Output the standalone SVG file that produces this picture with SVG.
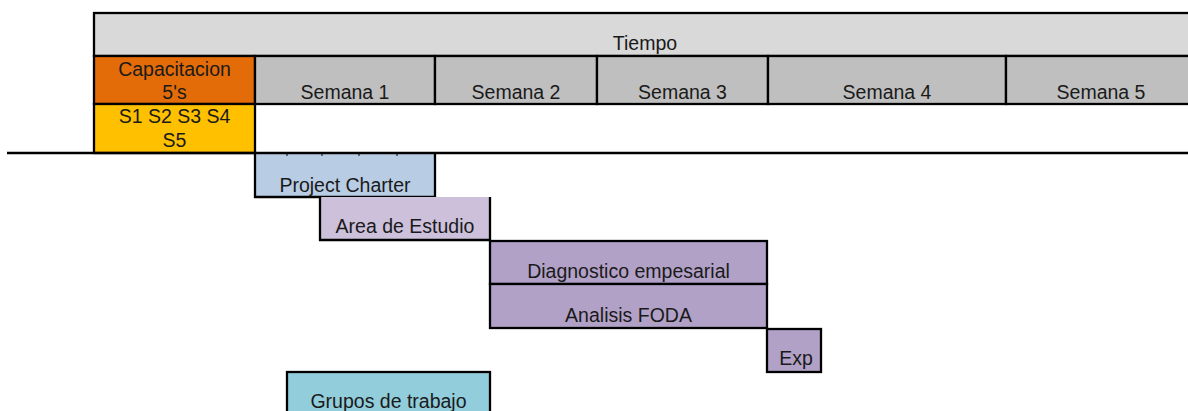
<svg xmlns="http://www.w3.org/2000/svg" width="1188" height="411" viewBox="0 0 1188 411">
  <style>
    text { font-family: "Liberation Sans", Arial, sans-serif; font-size: 19.5px; fill: #1a1a1a; text-anchor: middle; }
    .b { stroke: #000; stroke-width: 2.3; fill: none; }
    .hdr { fill: #D9D9D9; }
    .wk { fill: #BFBFBF; }
  </style>
  <rect width="1188" height="411" fill="#fff"/>

  <g id="header">
    <rect x="94" y="13" width="1106" height="43" class="hdr"/>
    <rect x="94" y="13" width="1106" height="43" class="b"/>
    <text x="645" y="50">Tiempo</text>
  </g>

  <g id="capacitacion">
    <rect x="94" y="56" width="161" height="48" fill="#E36C09"/>
    <rect x="94" y="56" width="161" height="48" class="b"/>
    <text x="174.5" y="76">Capacitacion</text>
    <text x="174.5" y="99">5's</text>
  </g>

  <g id="semana1">
    <rect x="255" y="56" width="180" height="48" class="wk"/>
    <rect x="255" y="56" width="180" height="48" class="b"/>
    <text x="345" y="99">Semana 1</text>
  </g>
  <g id="semana2">
    <rect x="435" y="56" width="162" height="48" class="wk"/>
    <rect x="435" y="56" width="162" height="48" class="b"/>
    <text x="516" y="99">Semana 2</text>
  </g>
  <g id="semana3">
    <rect x="597" y="56" width="171" height="48" class="wk"/>
    <rect x="597" y="56" width="171" height="48" class="b"/>
    <text x="682.5" y="99">Semana 3</text>
  </g>
  <g id="semana4">
    <rect x="768" y="56" width="238" height="48" class="wk"/>
    <rect x="768" y="56" width="238" height="48" class="b"/>
    <text x="887" y="99">Semana 4</text>
  </g>
  <g id="semana5">
    <rect x="1006" y="56" width="194" height="48" class="wk"/>
    <rect x="1006" y="56" width="194" height="48" class="b"/>
    <text x="1101" y="99">Semana 5</text>
  </g>

  <g id="s-cell">
    <rect x="94" y="104" width="161" height="49" fill="#FFC000"/>
    <rect x="94" y="104" width="161" height="49" class="b"/>
    <text x="174.5" y="123">S1 S2 S3 S4</text>
    <text x="174.5" y="147">S5</text>
  </g>

  <g id="project-charter">
    <rect x="255" y="153" width="180" height="44" fill="#B8CCE4"/>
    <path d="M255,153 V197 H435 V153" class="b"/>
    <text x="345" y="192">Project Charter</text>
  </g>

  <g id="area-estudio">
    <rect x="320" y="197" width="170" height="43" fill="#CCC0DA"/>
    <path d="M320,197 V240 H490 V197" class="b"/>
    <text x="405" y="233">Area de Estudio</text>
  </g>

  <g id="diagnostico">
    <rect x="490" y="241" width="277" height="43" fill="#B2A1C7"/>
    <rect x="490" y="241" width="277" height="43" class="b"/>
    <text x="628.5" y="278">Diagnostico empesarial</text>
  </g>

  <g id="foda">
    <rect x="490" y="284" width="277" height="44" fill="#B2A1C7"/>
    <rect x="490" y="284" width="277" height="44" class="b"/>
    <text x="628.5" y="322">Analisis FODA</text>
  </g>

  <g id="exp">
    <rect x="767" y="329" width="54" height="43" fill="#B2A1C7"/>
    <rect x="767" y="329" width="54" height="43" class="b"/>
    <text x="796" y="365">Exp</text>
  </g>

  <g id="grupos">
    <rect x="287" y="372" width="203" height="50" fill="#92CDDC"/>
    <rect x="287" y="372" width="203" height="50" class="b"/>
    <text x="388.5" y="408">Grupos de trabajo</text>
  </g>

  <g id="connectors">
    <line x1="7" y1="153" x2="1188" y2="153" class="b"/>
    <g stroke="#000" stroke-width="1">
      <line x1="287" y1="153" x2="287" y2="156"/>
      <line x1="322" y1="153" x2="322" y2="156"/>
      <line x1="359" y1="153" x2="359" y2="156"/>
      <line x1="397" y1="153" x2="397" y2="156"/>
    </g>
  </g>
</svg>
